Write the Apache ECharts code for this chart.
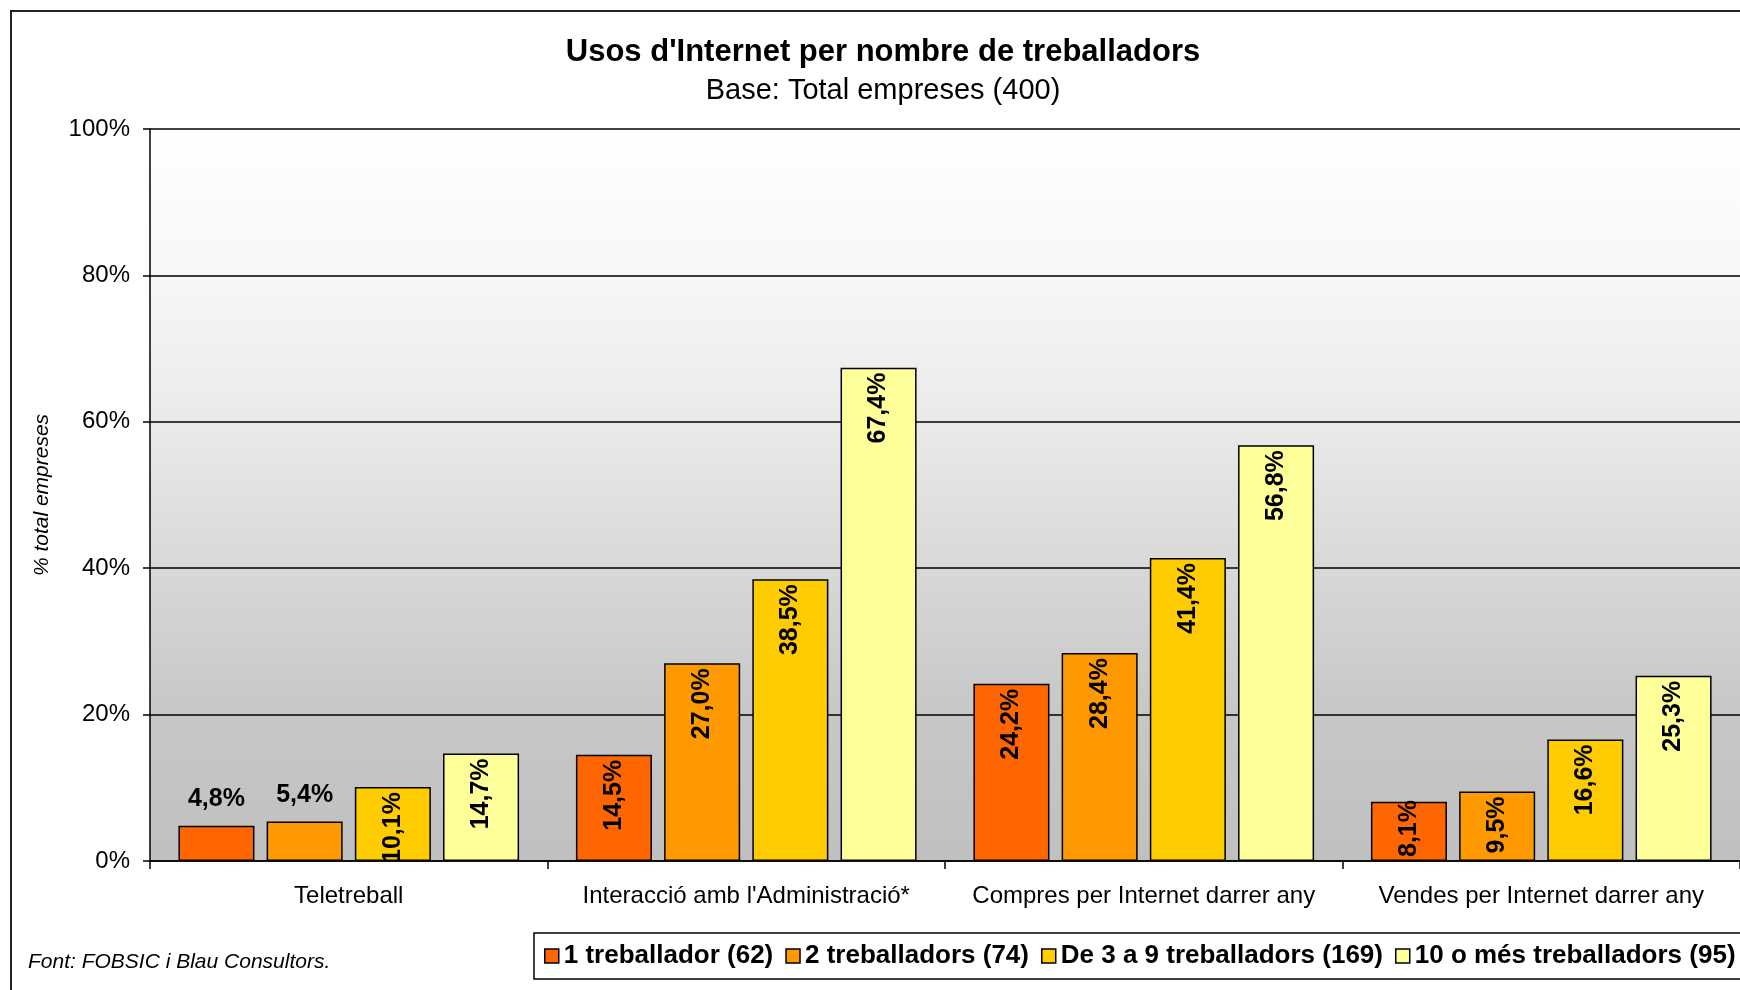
<!DOCTYPE html>
<html><head><meta charset="utf-8">
<script src="https://cdn.jsdelivr.net/npm/echarts@6/dist/echarts.min.js"></script>
<style>html,body{margin:0;padding:0;background:#fff}#c{width:1740px;height:990px}</style>
</head><body><div id="c"></div>
<script>
// ---- data ----
const categories = ['Teletreball', "Interacció amb l'Administració*", 'Compres per Internet darrer any', 'Vendes per Internet darrer any'];
const seriesNames = ['1 treballador (62)', '2 treballadors (74)', 'De 3 a 9 treballadors (169)', '10 o més treballadors (95)'];
const oneWorker = [4.8, 14.5, 24.2, 8.1];
const twoWorkers = [5.4, 27.0, 28.4, 9.5];
const threeToNine = [10.1, 38.5, 41.4, 16.6];
const tenOrMore = [14.7, 67.4, 56.8, 25.3];
const yMin = 0, yMax = 100, yStep = 20;
const titleText = "Usos d'Internet per nombre de treballadors";
const subtitleText = 'Base: Total empreses (400)';
const yAxisName = '% total empreses';
const sourceText = 'Font: FOBSIC i Blau Consultors.';

// ---- styling ----
const colors = ['#FF6600', '#FF9900', '#FFCC00', '#FFFF99'];
const FONT = "'Liberation Sans', Arial, Helvetica, sans-serif";
const fmt = v => v.toFixed(1).replace('.', ',') + '%';

const rotatedLabel = {
  show: true, position: 'insideTop', rotate: 90, align: 'right', verticalAlign: 'middle',
  distance: 5, fontFamily: FONT, fontWeight: 'bold', fontSize: 25, color: '#000',
  formatter: p => fmt(p.value)
};
const flatLabel = { position: 'top', rotate: 0, align: 'center', verticalAlign: 'bottom', distance: 14 };
const bottomLabel = { position: 'insideBottom', rotate: 90, align: 'left', verticalAlign: 'middle', distance: 4 };

const allSeries = [oneWorker, twoWorkers, threeToNine, tenOrMore];
const series = allSeries.map((arr, si) => ({
  name: seriesNames[si],
  type: 'bar',
  barGap: '16%',
  barCategoryGap: '14.3%',
  itemStyle: { color: colors[si], borderColor: '#000', borderWidth: 1.5 },
  label: rotatedLabel,
  emphasis: { disabled: true },
  data: arr.map((v, ci) => {
    if (ci === 0 && si < 2) return { value: v, label: flatLabel };
    if (v < 9) return { value: v, label: bottomLabel };
    return v;
  })
}));

const chart = echarts.init(document.getElementById('c'), null, { renderer: 'canvas' });
chart.setOption({
  animation: false,
  textStyle: { fontFamily: FONT },
  graphic: [
    { type: 'rect', z: -10, silent: true, shape: { x: 11, y: 11, width: 1800, height: 1100 },
      style: { fill: null, stroke: '#222', lineWidth: 2 } },
    { type: 'text', x: 883, y: 52, style: { text: titleText, textAlign: 'center', textVerticalAlign: 'middle',
      font: "bold 31px 'Liberation Sans', Arial, sans-serif", fill: '#000' } },
    { type: 'text', x: 883, y: 91, style: { text: subtitleText, textAlign: 'center', textVerticalAlign: 'middle',
      font: "29px 'Liberation Sans', Arial, sans-serif", fill: '#000' } },
    { type: 'text', x: 28, y: 962, style: { text: sourceText, textAlign: 'left', textVerticalAlign: 'middle',
      font: "italic 21px 'Liberation Sans', Arial, sans-serif", fill: '#000' } }
  ],
  grid: {
    left: 150, top: 129, width: 1596, height: 732, show: true, borderWidth: 0,
    backgroundColor: { type: 'linear', x: 0, y: 0, x2: 0, y2: 1, colorStops: [
      { offset: 0, color: '#FFFFFF' }, { offset: 0.2, color: '#F7F7F7' }, { offset: 0.4, color: '#EAEAEA' },
      { offset: 0.6, color: '#D8D8D8' }, { offset: 0.8, color: '#C7C7C7' }, { offset: 1, color: '#C0C0C0' } ] }
  },
  legend: {
    data: seriesNames, left: 534, top: 933, width: 1400, orient: 'horizontal', icon: 'rect',
    itemWidth: 14, itemHeight: 14, itemGap: 12, padding: [10, 6, 10, 10],
    borderColor: '#000', borderWidth: 1.5, backgroundColor: '#fff',
    itemStyle: { borderColor: '#000', borderWidth: 1.5 },
    textStyle: { fontFamily: FONT, fontWeight: 'bold', fontSize: 26, color: '#000' },
    selectedMode: false
  },
  xAxis: {
    type: 'category', data: categories,
    axisLine: { show: true, lineStyle: { color: '#000', width: 1.5 } },
    axisTick: { show: true, length: 8, lineStyle: { color: '#000', width: 1.5 } },
    axisLabel: { interval: 0, margin: 23, fontFamily: FONT, fontSize: 24, color: '#000' },
    splitLine: { show: false }
  },
  yAxis: {
    type: 'value', min: yMin, max: yMax, interval: yStep,
    name: yAxisName, nameLocation: 'middle', nameGap: 97,
    nameTextStyle: { fontFamily: FONT, fontStyle: 'italic', fontSize: 21, color: '#000' },
    axisLine: { show: true, lineStyle: { color: '#000', width: 1.5 } },
    axisTick: { show: true, length: 7, lineStyle: { color: '#000', width: 1.5 } },
    axisLabel: { formatter: '{value}%', margin: 20, fontFamily: FONT, fontSize: 24, color: '#000' },
    splitLine: { show: true, lineStyle: { color: '#000', width: 1.5 } }
  },
  series: series
});
</script>
</body></html>
